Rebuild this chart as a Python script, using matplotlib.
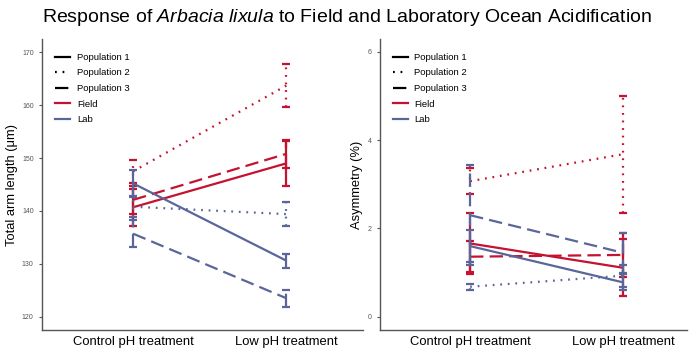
import matplotlib
matplotlib.use("Agg")
import matplotlib.pyplot as plt
from matplotlib.lines import Line2D

plt.rcParams['font.family'] = ['Liberation Sans', 'DejaVu Sans']
plt.rcParams['mathtext.fontset'] = 'custom'
plt.rcParams['mathtext.it'] = 'Liberation Sans:italic'
plt.rcParams['mathtext.rm'] = 'Liberation Sans'

conditions = ["Control pH treatment", "Low pH treatment"]
populations = ["Population 1", "Population 2", "Population 3"]
groups = ["Field", "Lab"]

# Total arm length (um): mean and error, per group / population
arm_field_mean = [[140.7, 149.0], [147.5, 163.7], [142.1, 150.8]]
arm_field_err = [[3.5, 4.2], [2.2, 4.0], [2.7, 2.6]]
arm_lab_mean = [[145.2, 130.6], [140.8, 139.4], [135.7, 123.5]]
arm_lab_err = [[2.6, 1.3], [2.0, 2.2], [2.6, 1.6]]

# Asymmetry (%)
asym_field_mean = [[1.66, 1.11], [3.07, 3.68], [1.36, 1.40]]
asym_field_err = [[0.70, 0.65], [0.30, 1.33], [0.35, 0.50]]
asym_lab_mean = [[1.60, 0.78], [0.68, 0.93], [2.30, 1.45]]
asym_lab_err = [[0.37, 0.18], [0.07, 0.25], [1.13, 0.45]]

arm_ticks = [120, 130, 140, 150, 160, 170]
asym_ticks = [0, 2, 4, 6]

RED = '#C41230'
BLUE = '#5A6699'
styles = ['-', (0, (0.8, 2.6)), (0, (6.0, 2.8))]
LW = 1.6
x = [1, 2]

fig = plt.figure(figsize=(7.0, 3.55), dpi=100)
ax1 = fig.add_axes([42/700, 25/355, 321/700, 291/355])
ax2 = fig.add_axes([380/700, 25/355, 307/700, 291/355])


def draw(ax, means_f, errs_f, means_l, errs_l):
    for means, errs, col in [(means_f, errs_f, RED), (means_l, errs_l, BLUE)]:
        for i in range(3):
            ax.plot(x, means[i], color=col, lw=LW, linestyle=styles[i],
                    dash_capstyle='butt', solid_capstyle='butt', zorder=3)
            eb = ax.errorbar(x, means[i], yerr=errs[i], fmt='none', ecolor=col,
                             elinewidth=LW, capsize=3.0, capthick=LW, zorder=3)
            eb[2][0].set_linestyle(styles[i])
    for s in ['top', 'right']:
        ax.spines[s].set_visible(False)
    for s in ['left', 'bottom']:
        ax.spines[s].set_color('#555555')
        ax.spines[s].set_linewidth(1.0)
    ax.set_xticks(x)
    ax.set_xticklabels(conditions, fontsize=9.4, color='black')
    ax.tick_params(axis='y', labelsize=5, colors='#555555', length=2.5, width=0.8)
    ax.tick_params(axis='x', length=0, pad=4)
    handles = [Line2D([], [], color='black', lw=LW, linestyle=styles[i]) for i in range(3)]
    handles += [Line2D([], [], color=RED, lw=LW), Line2D([], [], color=BLUE, lw=LW)]
    labels = populations + groups
    ax.legend(handles, labels, loc='upper left', bbox_to_anchor=(0.02, 0.975),
              frameon=False, fontsize=6.8, handlelength=1.6, handletextpad=0.7,
              labelspacing=0.7, borderaxespad=0.3)


draw(ax1, arm_field_mean, arm_field_err, arm_lab_mean, arm_lab_err)
ax1.set_xlim(0.405, 2.50)
ax1.set_ylim(117.5, 172.5)
ax1.set_yticks(arm_ticks)
ax1.set_ylabel('Total arm length (μm)', fontsize=9.3, labelpad=3)

draw(ax2, asym_field_mean, asym_field_err, asym_lab_mean, asym_lab_err)
ax2.set_xlim(0.41, 2.42)
ax2.set_ylim(-0.30, 6.29)
ax2.set_yticks(asym_ticks)
ax2.set_ylabel('Asymmetry (%)', fontsize=9.3, labelpad=3)

fig.text(0.496, 0.95, r'Response of $\it{Arbacia\ lixula}$ to Field and Laboratory Ocean Acidification',
         ha='center', va='center', fontsize=14)

fig.savefig('out.png', dpi=100)
